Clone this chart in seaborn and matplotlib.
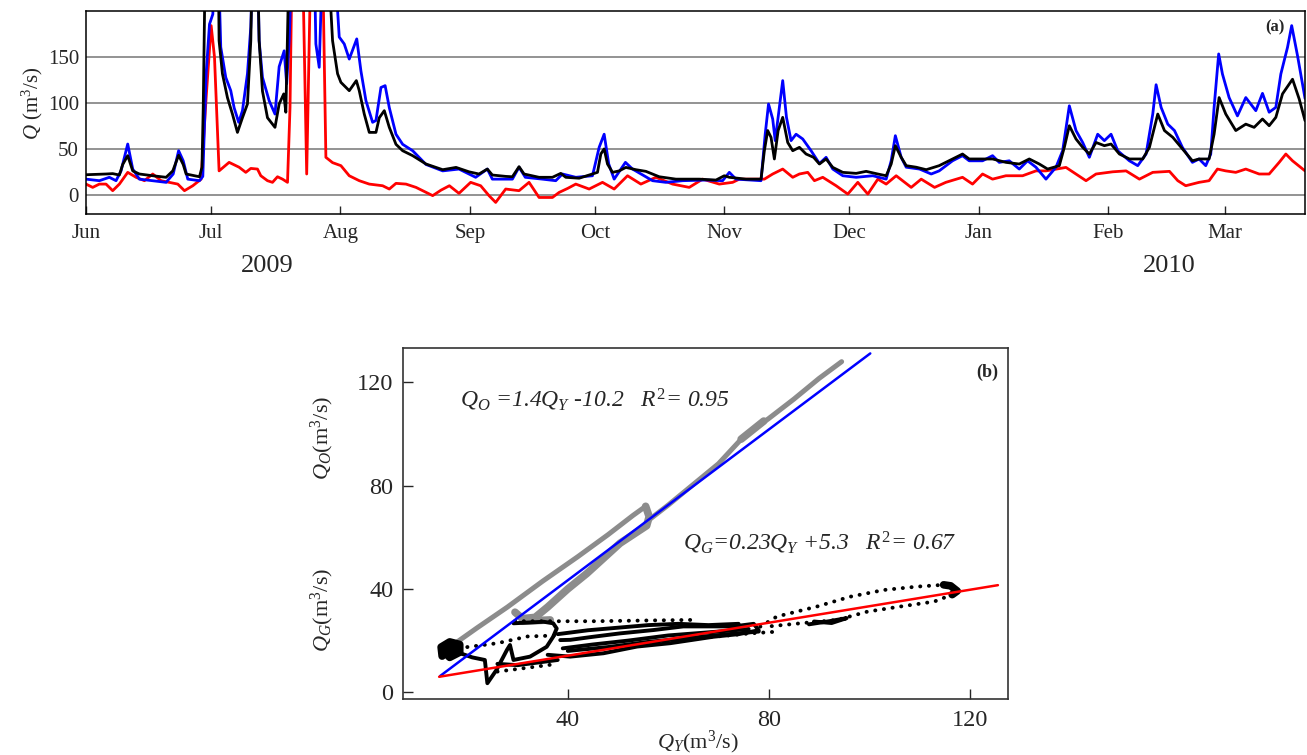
import pandas as pd
import matplotlib
matplotlib.use("Agg")
import matplotlib.pyplot as plt
import matplotlib.dates as mdates
import seaborn as sns

sns.set_style("ticks")
plt.rcParams['font.family'] = ['Liberation Serif', 'DejaVu Serif']
plt.rcParams['mathtext.fontset'] = 'custom'
plt.rcParams['mathtext.rm'] = 'Liberation Serif'
plt.rcParams['mathtext.it'] = 'Liberation Serif:italic'
plt.rcParams['mathtext.bf'] = 'Liberation Serif:bold'

start = pd.Timestamp('2009-06-01')

# ---------------- (a) discharge, (days after 1 Jun 2009, m3/s); 260 = off the top ----------------
q_black = [(0, 21.8), (4.8, 22.6), (6.4, 23), (8.0, 21.5), (8.8, 33), (10.0, 42.6), (11.2, 26), (12.8, 22.6),
           (16.0, 20.7), (19.2, 19), (20.8, 26), (22.2, 43), (23.3, 33), (24.0, 22.6), (27.2, 19.6), (27.8, 30),
           (28.1, 95), (28.6, 260), (31.7, 260), (31.9, 168), (32.7, 132), (33.9, 106), (35.1, 88), (36.3, 68),
           (37.5, 84), (38.7, 99), (39.5, 168), (39.9, 260), (41.1, 260), (41.5, 168), (42.3, 113), (43.5, 84),
           (45.3, 73.5), (46.3, 99), (47.4, 110), (47.9, 90), (48.7, 260), (58.0, 260), (59.1, 168), (60.3, 132),
           (61.1, 122.6), (63.1, 113.5), (64.8, 124.5), (65.5, 113.5), (66.7, 88), (67.9, 68), (69.5, 68),
           (70.3, 84), (71.5, 91.7), (72.7, 73.5), (74.3, 55), (75.9, 48), (78.3, 42.6), (81.5, 33.5),
           (85.5, 27.3), (88.7, 29.8), (91.8, 25), (94.2, 22.6), (96.2, 28), (97.4, 21.5), (100.6, 20),
           (102.2, 19.6), (103.8, 30.6), (105.0, 22.6), (108.6, 19), (111.8, 19), (113.8, 23.3), (115.0, 19),
           (118.2, 18), (121.4, 22.6), (122.6, 24.4), (123.4, 44.4), (124.2, 50), (125.0, 33.5), (126.2, 24.4),
           (127.8, 26), (129.4, 29.8), (131.8, 27.3), (134.2, 25.5), (137.4, 19.6), (141.4, 17), (147.0, 17),
           (151.0, 16), (153.0, 20.7), (154.2, 19), (158.2, 17), (161.8, 17), (162.6, 48), (163.4, 70),
           (164.2, 62.6), (165.0, 39), (165.9, 70), (167.0, 84.4), (168.2, 57), (169.4, 48), (171.0, 51.7),
           (172.6, 44.4), (174.4, 40.8), (175.8, 33.5), (177.4, 39), (179.0, 29.8), (181.4, 24.4), (184.6, 23.3),
           (187.0, 25.5), (189.8, 22.6), (191.8, 20.7), (193.0, 33.5), (194.0, 53.5), (195.4, 40.8), (196.6, 31.7),
           (199.0, 30), (201.4, 27.3), (204.5, 31.7), (207.7, 39), (210.1, 44.4), (211.7, 39), (214.1, 39),
           (217.3, 39), (220.5, 35.3), (223.7, 33.5), (226.1, 39), (228.5, 33.5), (230.5, 28), (233.3, 31.7),
           (234.5, 51.7), (235.7, 75.3), (237.3, 60.8), (238.9, 51.7), (240.5, 44.4), (242.1, 57), (244.1, 53.5),
           (245.7, 55.3), (247.7, 44.4), (250.1, 39), (253.3, 39), (254.9, 51.7), (256.9, 88), (258.5, 70),
           (260.5, 62.6), (262.8, 50), (265.2, 37), (266.8, 39), (269.2, 39), (270.4, 66), (271.6, 106),
           (273.2, 88), (275.6, 70), (278.0, 77), (280.0, 73.5), (282.0, 82.6), (283.6, 75.3), (285.2, 84.4),
           (286.8, 110), (289.2, 126), (290.8, 104.4), (292.2, 80.8)]

q_blue = [(0, 17), (3.2, 15.3), (5.6, 19), (7.2, 15.3), (8.4, 26), (10.0, 55.3), (11.2, 28), (12.8, 17),
          (16.0, 15.3), (19.2, 13.5), (20.9, 22.6), (22.2, 48), (23.3, 37), (24.4, 17), (27.2, 15.3), (28.0, 20),
          (28.8, 132), (29.6, 186), (30.4, 197), (30.8, 260), (31.7, 260), (32.3, 161), (33.5, 128),
          (34.7, 113.5), (35.5, 95), (36.6, 79), (37.5, 91.7), (38.7, 132), (39.5, 183), (40.0, 260),
          (41.1, 260), (41.5, 168), (42.3, 128), (43.9, 102.6), (45.3, 88), (46.3, 139.7), (47.5, 157),
          (48.1, 121), (48.7, 168), (49.4, 260), (54.7, 260), (55.1, 164.5), (55.9, 139), (56.7, 260),
          (59.5, 260), (60.7, 172), (61.9, 164.5), (63.1, 148), (64.9, 170), (65.9, 135), (67.1, 102.6),
          (68.7, 79), (69.5, 81), (70.7, 117), (71.7, 119), (72.7, 95), (74.3, 66), (75.9, 55), (78.3, 48),
          (81.5, 33), (85.5, 26), (89.4, 28), (93.4, 19), (96.2, 28), (97.4, 17), (102.2, 17), (103.8, 30),
          (105.3, 19), (109.4, 17), (112.6, 15.3), (114.2, 22.6), (117.4, 19), (121.4, 20.7), (123.0, 51.7),
          (124.2, 66), (125.3, 33.5), (126.6, 17), (129.3, 35.3), (131.0, 28), (135.8, 15.3), (139.0, 13.5),
          (143.0, 15.3), (148.6, 16), (152.6, 15.3), (154.2, 24.4), (155.8, 17), (161.8, 15.3), (162.8, 66),
          (163.6, 99), (164.6, 82.6), (165.2, 59), (166.0, 88), (167.0, 124.5), (167.9, 84.4), (169.0, 59),
          (170.2, 66), (171.8, 60.8), (173.8, 48), (175.8, 34), (177.4, 40.8), (179.0, 28), (181.4, 20.7),
          (184.6, 19), (188.6, 20.7), (191.8, 17), (193.0, 37), (194.0, 64.4), (195.4, 40.8), (196.6, 30),
          (199.8, 28), (202.6, 22.6), (204.5, 26), (207.7, 37), (210.1, 42.6), (211.7, 37), (214.9, 37),
          (217.3, 42.6), (218.9, 35.3), (221.3, 37), (223.7, 28), (225.7, 37), (227.7, 30), (230.1, 17),
          (232.5, 30), (234.1, 48), (235.7, 97), (237.3, 70), (238.9, 57), (240.5, 40.8), (242.5, 66),
          (244.1, 59), (245.7, 66), (247.3, 48), (250.1, 37), (252.1, 31.7), (254.1, 44.4), (255.7, 88),
          (256.5, 120), (257.7, 95.3), (259.3, 77), (260.9, 70), (262.8, 51.7), (265.2, 35.3), (266.8, 39),
          (268.4, 31.7), (269.6, 44.4), (270.4, 95.3), (271.5, 153.6), (272.4, 131.7), (274.0, 106),
          (276.0, 86), (278.0, 106), (280.4, 91.7), (282.0, 110.6), (283.6, 90), (285.2, 95.3), (286.4, 131.7),
          (288.0, 160.8), (289.0, 184.5), (290.4, 151.6), (292.2, 105)]

q_red = [(0, 11.6), (1.6, 8), (3.2, 11.6), (4.8, 11.6), (6.4, 4.4), (8.0, 11.6), (10.0, 24.4), (12.0, 19),
         (14.0, 15.3), (16.0, 22.6), (18.0, 15.3), (20.0, 13.5), (22.0, 11.6), (23.6, 4.4), (25.6, 9.8),
         (27.6, 17), (28.8, 106), (30.0, 184.5), (30.8, 150), (31.9, 26), (34.3, 35.3), (36.7, 30), (38.3, 24.4),
         (39.5, 28.7), (41.1, 28), (41.9, 20.7), (43.5, 15.3), (44.7, 13.5), (45.9, 19.6), (47.1, 17),
         (48.3, 13.5), (48.9, 95), (49.4, 260), (51.9, 260), (52.9, 22.6), (53.9, 260), (56.7, 260),
         (57.5, 40.8), (59.1, 35), (61.1, 31.7), (63.1, 20.7), (65.5, 15.3), (67.9, 11.6), (71.1, 9.8),
         (72.7, 6.2), (74.3, 12.4), (76.7, 11.6), (79.1, 8), (80.7, 4.4), (83.1, -1), (85.1, 5), (87.1, 9.8),
         (89.4, 1.5), (92.2, 13.5), (94.6, 9.8), (96.6, -1), (98.2, -8.4), (100.6, 6.2), (103.8, 4.4),
         (106.2, 13.5), (108.6, -3), (111.8, -3), (113.4, 2.5), (115.5, 7), (117.4, 11.6), (120.6, 6.2),
         (123.8, 13.5), (126.6, 6.2), (129.8, 20.7), (133.0, 11.6), (136.6, 19), (140.6, 11.6), (144.6, 8),
         (147.8, 17), (151.8, 11.6), (155.0, 13.5), (156.6, 17), (159.8, 17), (162.6, 17), (164.6, 22.6),
         (167.0, 28), (169.4, 19), (171.0, 22.6), (173.0, 24.4), (174.6, 15.3), (176.6, 19), (179.8, 9.8),
         (182.6, 0.7), (185.0, 13.5), (187.4, 0.7), (189.8, 17), (191.8, 11.6), (194.2, 20.7), (197.8, 8),
         (200.2, 17), (203.4, 8), (206.1, 13.5), (210.1, 19), (212.5, 11.6), (214.9, 22.6), (217.3, 17),
         (220.5, 20.7), (224.5, 20.7), (227.7, 26), (230.1, 26), (234.9, 29.8), (237.3, 22.6), (239.7, 15.3),
         (242.1, 22.6), (246.1, 25), (249.3, 26), (252.5, 17), (255.7, 24.4), (259.7, 25.5), (261.7, 15.3),
         (263.6, 9.8), (266.8, 13.5), (269.2, 15.3), (271.2, 28), (273.2, 26), (275.6, 24.4), (278.0, 28),
         (281.2, 22.6), (283.6, 22.6), (286.0, 35.3), (287.6, 44.4), (289.2, 37), (292.2, 26)]

# ---------------- (b) Q_O and Q_G against Q_Y, traced paths (Q_Y, Q) ----------------
gray_thin = [[(15.5, 15.5), (18, 19.5), (22, 25), (28, 33), (35, 43), (42, 52.5), (48, 61), (53, 68.5), (55.5, 72)],
             [(56, 66.5), (60, 72.5), (65, 80.5), (70, 88.5), (75, 99), (80, 106), (85, 113.5), (90, 121.5),
              (94.5, 128)]]
gray_thick = [[(55.5, 72), (56.2, 68), (55.7, 64.5), (50.4, 57.7), (43.8, 46), (40, 40), (36, 33), (33.5, 29),
               (31, 28.5), (29.5, 31)],
              [(74.5, 98), (79, 105)],
              [(31, 27.5), (36.5, 28)]]

black_blob = [[(15, 14), (14.8, 17.5), (16.5, 19.5), (18.5, 18.5), (18.5, 15.5), (16.5, 13.5), (15.5, 15.5),
               (17.5, 17.5), (16, 17), (17.5, 15)],
              [(114.8, 41.6), (116.2, 41.2), (117.5, 39.2), (116.5, 37.8)]]
black_dense = [[(18, 15.5), (21, 13.5), (23.5, 12.5), (24, 3.5), (25.8, 8.6), (27.9, 16.4), (28.5, 18.3),
                (29.2, 12.5), (32.5, 13.8), (35.8, 17.6), (37.1, 21.5), (37.8, 24.7), (37.1, 26.7),
                (35.2, 27.3), (29.2, 26.7)],
               [(36, 14.5), (40.5, 13.8), (47.1, 15.1), (53.8, 17.7), (60.4, 19), (69, 21.5), (74, 22.5),
                (78, 24), (77, 26.5), (73, 25.5), (69.5, 25.5), (63, 25.5), (57.1, 24.1), (50.4, 22.8),
                (45.1, 21.5), (40.5, 20.3), (38.5, 20.2)],
               [(39, 17), (45, 18.5), (52, 20), (60, 22), (70, 23.5), (76, 24.5)],
               [(38, 22.5), (44, 24), (50, 25), (56, 26), (62, 26.5), (68, 26), (74, 26.5)],
               [(40, 16), (48, 17.5), (56, 19.5), (64, 21), (72, 22.5), (78, 23.5)],
               [(26, 11), (30, 10.5), (34, 11.5), (38, 12.5)],
               [(88, 26.3), (92, 27.5), (95.5, 28.7), (92.5, 26.8), (89, 27.4)]]
black_dots = [[(29.5, 27.5), (45, 27.5), (56, 27.8), (64.5, 28)],
              [(78.3, 25.4), (81.6, 29.3), (89.6, 33.2), (96.2, 37), (102.9, 39.6), (109.5, 40.9), (114.8, 41.6)],
              [(116.5, 37.8), (112.9, 35.1), (106.2, 33.2), (99.6, 31.2), (93.6, 28), (86.3, 26.7), (80, 25.5)],
              [(56.4, 18.3), (63, 20.3), (69.7, 21.6), (76.3, 22.8), (82, 23.5)],
              [(20, 17.5), (26, 19), (32, 21.6), (38, 22)],
              [(26, 8), (32, 9.5), (38, 11)]]

# regression lines: slope, intercept, Q_Y range
fit_o = (1.459, -15.0, 14.6, 100.2)
fit_g = (0.319, 1.4, 14.4, 125.6)


def series_frame(pairs):
    d = pd.DataFrame(pairs, columns=['day', 'Q'])
    d['date'] = start + pd.to_timedelta(d['day'], unit='D')
    return d


def path_frame(segs):
    rows = [(i, x, y) for i, seg in enumerate(segs) for x, y in seg]
    return pd.DataFrame(rows, columns=['seg', 'qy', 'q'])


fig = plt.figure(figsize=(13.07, 7.55), dpi=100)

# ------------------------------ (a) time series ------------------------------
ax = fig.add_axes([0.0658, 0.7166, 0.9327, 0.2689])
for pairs, col in [(q_red, '#ff0000'), (q_blue, '#0000ff'), (q_black, 'black')]:
    sns.lineplot(data=series_frame(pairs), x='date', y='Q', color=col, lw=2, estimator=None, sort=False, ax=ax)
ax.set_xlim(start, start + pd.Timedelta(days=292.2))
ax.set_ylim(-21, 200.5)
ax.set_yticks([0, 50, 100, 150])
ax.yaxis.grid(True, color='#808080', lw=1.2)
ax.set_axisbelow(True)
ax.xaxis.set_major_locator(mdates.MonthLocator())
ax.xaxis.set_major_formatter(mdates.DateFormatter('%b'))
ax.tick_params(axis='x', direction='in', length=6, width=1, pad=7, labelsize=15)
ax.tick_params(axis='y', length=0, pad=5, labelsize=15)
ax.set_xlabel('')
ax.set_ylabel('')
for s in ax.spines.values():
    s.set_color('black')
    s.set_linewidth(1.1)
ax.text(0.975, 0.92, '(a)', transform=ax.transAxes, ha='center', va='center', fontsize=12, fontweight='bold')
fig.text(32 / 1307, 1 - 103 / 755, r'$Q$ (m$^\mathrm{3}$/s)', rotation=90, ha='center', va='center', fontsize=15)
fig.text(267 / 1307, 1 - 266 / 755, '2009', ha='center', va='center', fontsize=19)
fig.text(1169 / 1307, 1 - 266 / 755, '2010', ha='center', va='center', fontsize=19)

# ------------------------------ (b) scatter ------------------------------
bx = fig.add_axes([0.3083, 0.0742, 0.4629, 0.4649])
sns.lineplot(data=path_frame(gray_thin), x='qy', y='q', units='seg', estimator=None, sort=False,
             color='#8c8c8c', lw=3.6, solid_capstyle='round', solid_joinstyle='round', ax=bx)
sns.lineplot(data=path_frame(gray_thick), x='qy', y='q', units='seg', estimator=None, sort=False,
             color='#8c8c8c', lw=5.5, solid_capstyle='round', solid_joinstyle='round', ax=bx)
sns.lineplot(data=path_frame(black_blob), x='qy', y='q', units='seg', estimator=None, sort=False,
             color='black', lw=5.5, solid_capstyle='round', solid_joinstyle='round', ax=bx)
sns.lineplot(data=path_frame(black_dense), x='qy', y='q', units='seg', estimator=None, sort=False,
             color='black', lw=2.8, solid_capstyle='round', solid_joinstyle='round', ax=bx)
sns.lineplot(data=path_frame(black_dots), x='qy', y='q', units='seg', estimator=None, sort=False,
             color='black', lw=2.8, linestyle=(0, (0.05, 2.2)), dash_capstyle='round', ax=bx)
for (k, b, x0, x1), col in [(fit_o, '#0000ff'), (fit_g, '#ff0000')]:
    sns.lineplot(x=[x0, x1], y=[k * x0 + b, k * x1 + b], color=col, lw=1.8, ax=bx)
bx.set_xlim(7.2, 127.6)
bx.set_ylim(-2.6, 133.3)
bx.set_xticks([40, 80, 120])
bx.set_yticks([0, 40, 80, 120])
bx.tick_params(direction='in', length=7, width=1, labelsize=17.5)
bx.tick_params(axis='x', pad=8)
bx.tick_params(axis='y', pad=7)
bx.set_xlabel('')
bx.set_ylabel('')
for s in bx.spines.values():
    s.set_color('#333333')
    s.set_linewidth(1.2)
bx.text(0.965, 0.93, '(b)', transform=bx.transAxes, ha='center', va='center', fontsize=13, fontweight='bold')
fig.text(460 / 1307, 1 - 407 / 755, r'$Q_O$ =1.4$Q_Y$ -10.2   $R^2$= 0.95', fontstyle='italic',
         ha='left', va='baseline', fontsize=17)
fig.text(683 / 1307, 1 - 550 / 755, r'$Q_G$=0.23$Q_Y$ +5.3   $R^2$= 0.67', fontstyle='italic',
         ha='left', va='baseline', fontsize=17)
fig.text(322 / 1307, 1 - 438 / 755, r'$Q_O$(m$^\mathrm{3}$/s)', rotation=90, ha='center', va='center', fontsize=16)
fig.text(322 / 1307, 1 - 610 / 755, r'$Q_G$(m$^\mathrm{3}$/s)', rotation=90, ha='center', va='center', fontsize=16)
fig.text(698 / 1307, 1 - 742 / 755, r'$Q_Y$(m$^\mathrm{3}$/s)', ha='center', va='center', fontsize=16)

fig.savefig('out.png', dpi=100, facecolor='white')
